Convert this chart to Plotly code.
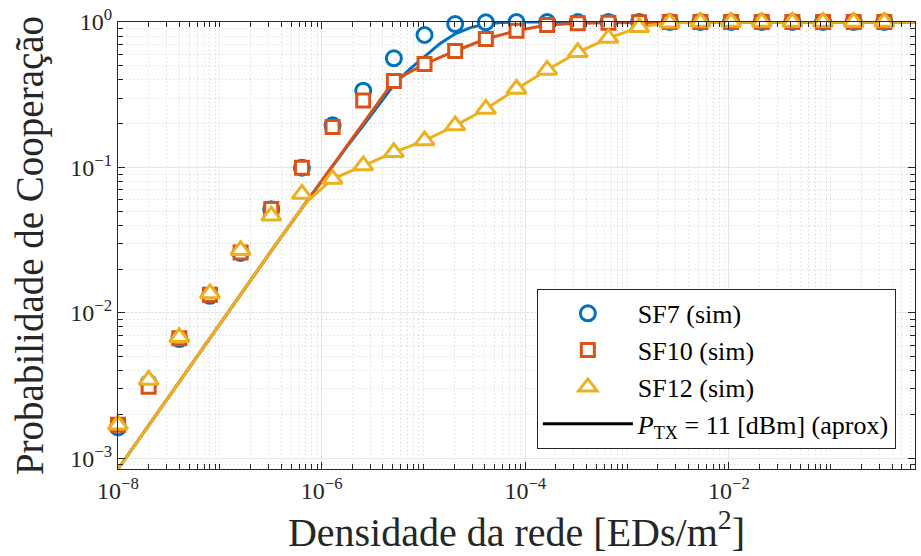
import math
import plotly.graph_objects as go

# ---------------- data ----------------
density = [1e-8, 2e-8, 4e-8, 8e-8, 1.6e-7, 3.2e-7, 6.4e-7, 1.28e-6, 2.56e-6, 5.12e-6,
           1.024e-5, 2.048e-5, 4.096e-5, 8.192e-5, 1.6384e-4, 3.2768e-4, 6.5536e-4,
           1.31072e-3, 2.62144e-3, 5.24288e-3, 1.048576e-2, 2.097152e-2, 4.194304e-2,
           8.388608e-2, 0.16777216, 0.33554432, 0.67108864]

sf7_sim = [0.00163, 0.0033, 0.0066, 0.0131, 0.0258, 0.0515, 0.0995, 0.195, 0.337, 0.563,
           0.814, 0.968, 0.995, 1.0, 1.0, 1.0, 1.0, 1.0, 1.0, 1.0, 1.0, 1.0, 1.0, 1.0,
           1.0, 1.0, 1.0]
sf10_sim = [0.0017, 0.0031, 0.0067, 0.0133, 0.026, 0.0518, 0.0995, 0.19, 0.288, 0.393,
            0.514, 0.632, 0.764, 0.871, 0.953, 0.98, 0.99, 0.996, 1.0, 1.0, 1.0, 1.0,
            1.0, 1.0, 1.0, 1.0, 1.0]
sf12_sim = [0.0017, 0.00345, 0.0068, 0.0136, 0.027, 0.0465, 0.0656, 0.0832, 0.103, 0.127,
            0.153, 0.194, 0.252, 0.346, 0.468, 0.619, 0.775, 0.92, 0.99, 1.0, 1.0, 1.0,
            1.0, 1.0, 1.0, 1.0, 1.0]

approx_sf7_x = [1e-8, 2e-8, 4e-8, 8e-8, 1.6e-7, 3.2e-7, 6.4e-7, 1.28e-6, 1.81e-6, 2.56e-6,
                3.62e-6, 5.12e-6, 7.24e-6, 1.024e-5, 1.448e-5, 2.048e-5, 2.896e-5,
                4.096e-5, 5.793e-5, 8.192e-5, 1.1585e-4, 1.6384e-4, 0.67108864]
approx_sf7 = [8.44e-4, 1.687e-3, 3.37e-3, 6.73e-3, 0.01341, 0.02665, 0.0526, 0.1024,
              0.1417, 0.1943, 0.27, 0.37, 0.47, 0.58, 0.71, 0.83, 0.915, 0.97, 0.993,
              0.999, 1.0, 1.0, 1.0]

approx_sf10_x = density
approx_sf10 = [8.44e-4, 1.687e-3, 3.37e-3, 6.73e-3, 0.01341, 0.02665, 0.0526, 0.1024,
               0.2, 0.393, 0.514, 0.632, 0.764, 0.871, 0.953, 0.98, 0.99, 0.996, 1.0,
               1.0, 1.0, 1.0, 1.0, 1.0, 1.0, 1.0, 1.0]

approx_sf12_x = [1e-8, 2e-8, 4e-8, 8e-8, 1.6e-7, 3.2e-7, 6.4e-7, 7.5e-7, 1.28e-6, 2.56e-6,
                 5.12e-6, 1.024e-5, 2.048e-5, 4.096e-5, 8.192e-5, 1.6384e-4, 3.2768e-4,
                 6.5536e-4, 1.31072e-3, 2.62144e-3, 5.24288e-3, 1.048576e-2, 2.097152e-2,
                 4.194304e-2, 8.388608e-2, 0.16777216, 0.33554432, 0.67108864]
approx_sf12 = [8.44e-4, 1.687e-3, 3.37e-3, 6.73e-3, 0.01341, 0.02665, 0.0526, 0.06,
               0.0832, 0.103, 0.127, 0.153, 0.194, 0.252, 0.346, 0.468, 0.619, 0.775,
               0.92, 0.99, 1.0, 1.0, 1.0, 1.0, 1.0, 1.0, 1.0, 1.0]

x_tick_vals = [1e-8, 1e-6, 1e-4, 1e-2]
x_tick_text = ["10<sup>\u22128</sup>", "10<sup>\u22126</sup>", "10<sup>\u22124</sup>",
               "10<sup>\u22122</sup>"]
y_tick_vals = [1e-3, 1e-2, 1e-1, 1]
y_tick_text = ["10<sup>\u22123</sup>", "10<sup>\u22122</sup>", "10<sup>\u22121</sup>",
               "10<sup>0</sup>"]

series_names = ["SF7 (sim)", "SF10 (sim)", "SF12 (sim)"]
approx_name = "<i>P</i><sub>TX</sub> = 11 [dBm] (aprox)"
x_title = "Densidade da rede [EDs/m<sup>2</sup>]"
y_title = "Probabilidade de Cooperação"

# ---------------- style ----------------
C_BLUE = "#0072BD"
C_ORANGE = "#D95319"
C_YELLOW = "#EDB120"
AX = "#262626"
FONT = "Liberation Serif, Times New Roman, serif"

x_min, x_max = 1e-8, 0.67108864
y_min, y_max = 8.44e-4, 1.0

x_minor = [m * 10 ** n for n in range(-8, 0) for m in range(1, 10)
           if m * 10 ** n not in x_tick_vals and x_min < m * 10 ** n <= x_max]
y_minor = [m * 10 ** n for n in range(-4, 0) for m in range(2, 10)
           if m * 10 ** n >= y_min]

fig = go.Figure()

for xs, ys, c in [(approx_sf7_x, approx_sf7, C_BLUE),
                  (approx_sf10_x, approx_sf10, C_ORANGE),
                  (approx_sf12_x, approx_sf12, C_YELLOW)]:
    fig.add_trace(go.Scatter(x=xs, y=ys, mode="lines", line=dict(color=c, width=3),
                             showlegend=False, hoverinfo="skip"))

for ys, c, sym, sz, name in [(sf7_sim, C_BLUE, "circle", 15, series_names[0]),
                             (sf10_sim, C_ORANGE, "square", 13, series_names[1]),
                             (sf12_sim, C_YELLOW, "triangle-up", 17, series_names[2])]:
    fig.add_trace(go.Scatter(x=density, y=ys, mode="markers", name=name, cliponaxis=False,
                             marker=dict(symbol=sym, size=sz, color="white",
                                         line=dict(color=c, width=3))))

fig.add_trace(go.Scatter(x=[None], y=[None], mode="lines", name=approx_name,
                         line=dict(color="black", width=3)))

axis_common = dict(
    type="log", showline=True, linecolor=AX, linewidth=1, mirror="ticks",
    ticks="inside", ticklen=7, tickwidth=1, tickcolor=AX,
    showgrid=True, gridcolor="#e6e6e6", gridwidth=1, zeroline=False,
    tickfont=dict(family=FONT, size=24, color=AX),
    tickmode="array",
)

minor_common = dict(tickmode="array", ticks="inside", ticklen=5, tickcolor=AX,
                    showgrid=True, gridcolor="#d2d2d2", griddash="1px,3px", gridwidth=1)

fig.update_xaxes(
    **axis_common,
    range=[math.log10(x_min), math.log10(x_max)],
    tickvals=x_tick_vals, ticktext=x_tick_text,
    minor=dict(tickvals=x_minor, **minor_common),
    title=dict(text=x_title, font=dict(family=FONT, size=40, color=AX), standoff=6),
)
fig.update_yaxes(
    **axis_common,
    range=[math.log10(y_min), math.log10(y_max)],
    tickvals=y_tick_vals, ticktext=y_tick_text,
    minor=dict(tickvals=y_minor, **minor_common),
    title=dict(text=y_title, font=dict(family=FONT, size=39, color=AX), standoff=14),
)

fig.update_layout(
    width=921, height=556,
    margin=dict(l=118, r=6, t=22, b=87, autoexpand=False),
    plot_bgcolor="white", paper_bgcolor="white",
    font=dict(family=FONT, color=AX),
    showlegend=True,
    legend=dict(x=0.976, y=0.045, xanchor="right", yanchor="bottom",
                bgcolor="white", bordercolor=AX, borderwidth=1,
                font=dict(family=FONT, size=26, color="black"),
                tracegroupgap=0, itemwidth=90),
)

fig.write_html("out.html", config={"displayModeBar": False},
               post_script="document.body.style.margin='0px';")
